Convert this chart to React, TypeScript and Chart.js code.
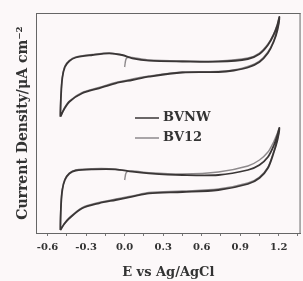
import React, { useEffect, useRef } from "react";
import { Chart, registerables } from "chart.js";

Chart.register(...registerables);

// Tick labels / values
const majorTickLabels = ["-0.6", "-0.3", "0.0", "0.3", "0.6", "0.9", "1.2"];
const allTickValues = [-0.6, -0.45, -0.3, -0.15, 0.0, 0.15, 0.3, 0.45, 0.6, 0.75, 0.9, 1.05, 1.2, 1.35];

const seriesNames = ["BVNW", "BV12"];

// Upper set, BVNW
const bvnwTopE = [-0.5, -0.495, -0.485, -0.465, -0.43, -0.38, -0.25, -0.12, -0.02, 0.06, 0.19, 0.45, 0.73, 0.96, 1.05, 1.116, 1.16, 1.19, 1.205,
  1.19, 1.16, 1.116, 1.05, 0.96, 0.85, 0.73, 0.45, 0.19, 0.06, -0.07, -0.2, -0.33, -0.43, -0.47, -0.5];
const bvnwTopJ = [116.3, 138, 155, 166, 172, 175.5, 178, 179.7, 178, 174.7, 172.3, 171.5, 171.3, 174, 179, 188, 198, 208, 216,
  203, 191, 180, 171, 165.5, 162.5, 161, 160.5, 156.3, 153, 149.7, 144.7, 139.7, 131.3, 124, 116.3];

// Upper set, BV12
const bv12TopE = [0.0, 0.015, 0.06, 0.19, 0.45, 0.73, 0.96, 1.05, 1.116, 1.16, 1.19, 1.205,
  1.19, 1.16, 1.116, 1.05, 0.96, 0.85, 0.73, 0.45, 0.19, 0.06, -0.07, -0.2, -0.33, -0.43, -0.47, -0.5,
  -0.495, -0.485, -0.465, -0.43, -0.38, -0.25, -0.12, -0.03];
const bv12TopJ = [166, 175, 175.5, 173, 172, 172, 175, 180, 189, 199, 209, 216,
  204, 192, 181, 172, 166.5, 163, 161.5, 161, 157, 154, 150.5, 145.5, 140.5, 132, 125, 117,
  139, 156, 167, 172.5, 176, 178.5, 180, 178.5];

// Lower set, BVNW
const bvnwBotE = [-0.5, -0.495, -0.485, -0.465, -0.43, -0.38, -0.25, -0.07, 0.06, 0.19, 0.45, 0.73, 0.96, 1.05, 1.116, 1.16, 1.19, 1.205,
  1.19, 1.16, 1.116, 1.05, 0.96, 0.73, 0.45, 0.19, 0.06, -0.07, -0.2, -0.33, -0.43, -0.47, -0.5];
const bvnwBotJ = [3, 28, 43, 53, 59.5, 62.5, 63.7, 63.7, 61.3, 59.7, 58, 58, 63, 68, 76, 87, 98, 105,
  93, 80, 65, 55, 49, 43, 41, 39.7, 36.3, 33, 29.7, 24.7, 14.7, 9, 3];

// Lower set, BV12
const bv12BotE = [0.0, 0.015, 0.06, 0.19, 0.45, 0.73, 0.96, 1.05, 1.116, 1.16, 1.19, 1.205,
  1.19, 1.16, 1.116, 1.05, 0.96, 0.73, 0.45, 0.19, 0.06, -0.07, -0.2, -0.33, -0.43, -0.47, -0.5,
  -0.495, -0.485, -0.465, -0.43, -0.38, -0.25, -0.12, -0.03];
const bv12BotJ = [53, 61, 62, 60.3, 59, 61, 67, 73, 81, 91, 100, 105,
  94, 81, 66, 56, 50, 44, 42, 40.5, 37, 34, 30.5, 25.5, 15.5, 9.5, 3.5,
  29, 44, 54, 60, 63, 64.3, 64.3, 63];

const DARK = "#3a3636";
const GRAY = "#8e8a8c";
const FONT = "'DejaVu Serif', 'Liberation Serif', serif";

const pts = (xs: number[], ys: number[]) => xs.map((x, i) => ({ x, y: ys[i] }));

const framePlugin = {
  id: "frame",
  afterDraw(chart: any) {
    const { ctx, chartArea: a } = chart;
    ctx.save();
    ctx.strokeStyle = "#666";
    ctx.lineWidth = 1;
    ctx.beginPath();
    ctx.moveTo(a.left, a.top + 0.5);
    ctx.lineTo(a.right, a.top + 0.5);
    ctx.moveTo(a.right - 0.5, a.top);
    ctx.lineTo(a.right - 0.5, a.bottom);
    ctx.stroke();
    ctx.restore();
  },
};

const legendPlugin = {
  id: "innerLegend",
  afterDraw(chart: any) {
    const { ctx } = chart;
    const items = [
      { label: chart.data.datasets[0].label, color: DARK, y: 118 },
      { label: chart.data.datasets[1].label, color: GRAY, y: 138 },
    ];
    ctx.save();
    ctx.font = `bold 13px ${FONT}`;
    ctx.textBaseline = "middle";
    items.forEach((it) => {
      ctx.strokeStyle = it.color;
      ctx.lineWidth = 1.5;
      ctx.beginPath();
      ctx.moveTo(135, it.y);
      ctx.lineTo(159, it.y);
      ctx.stroke();
      ctx.fillStyle = "#333";
      ctx.fillText(it.label, 163, it.y);
    });
    ctx.restore();
  },
};

export default function App() {
  const ref = useRef<HTMLCanvasElement>(null);
  useEffect(() => {
    if (!ref.current) return;
    const mk = (label: string, data: any, color: string, w: number) => ({
      label,
      data,
      borderColor: color,
      backgroundColor: color,
      borderWidth: w,
      showLine: true,
      pointRadius: 0,
      tension: 0.3,
      fill: false,
    });
    const chart = new Chart(ref.current, {
      type: "scatter",
      data: {
        datasets: [
          mk(seriesNames[0], pts(bvnwTopE, bvnwTopJ), DARK, 1.8),
          mk(seriesNames[1], pts(bv12TopE, bv12TopJ), GRAY, 1.4),
          mk(seriesNames[0], pts(bvnwBotE, bvnwBotJ), DARK, 1.8),
          mk(seriesNames[1], pts(bv12BotE, bv12BotJ), GRAY, 1.4),
        ],
      },
      options: {
        animation: false,
        responsive: false,
        devicePixelRatio: 1,
        layout: { padding: { top: 13, right: 1, left: 0, bottom: 0 } },
        plugins: { legend: { display: false }, tooltip: { enabled: false } },
        scales: {
          x: {
            type: "linear",
            min: -0.69,
            max: 1.37,
            afterBuildTicks: (scale: any) => {
              scale.ticks = allTickValues.map((v) => ({ value: v }));
            },
            afterFit: (scale: any) => {
              scale.height = 48;
            },
            ticks: {
              autoSkip: false,
              maxRotation: 0,
              padding: 5,
              color: "#333",
              font: { family: FONT, size: 10, weight: "bold" },
              callback: (value: any) => {
                const l = majorTickLabels.find((s) => Math.abs(parseFloat(s) - value) < 1e-6);
                return l ?? "";
              },
            },
            grid: { display: true, drawOnChartArea: false, drawTicks: true, tickLength: 3, color: "#777" },
            border: { display: true, color: "#666", width: 1 },
            title: {
              display: true,
              text: "E vs Ag/AgCl",
              color: "#333",
              font: { family: FONT, size: 13, weight: "bold" },
              padding: { top: 0, bottom: 1 },
            },
          },
          y: {
            type: "linear",
            min: 0,
            max: 220,
            afterFit: (scale: any) => {
              scale.width = 36;
            },
            ticks: { display: false },
            grid: { display: false },
            border: { display: true, color: "#666", width: 1 },
            title: {
              display: true,
              text: "Current Density/μA cm⁻²",
              color: "#333",
              font: { family: FONT, size: 14, weight: "bold" },
              padding: { top: 15, bottom: 0 },
            },
          },
        },
      },
      plugins: [framePlugin, legendPlugin],
    } as any);
    return () => chart.destroy();
  }, []);
  return (
    <div style={{ position: "absolute", left: 0, top: 0, width: 303, height: 281, background: "#fcf8f9" }}>
      <canvas ref={ref} width={303} height={281} style={{ display: "block" }} />
    </div>
  );
}
